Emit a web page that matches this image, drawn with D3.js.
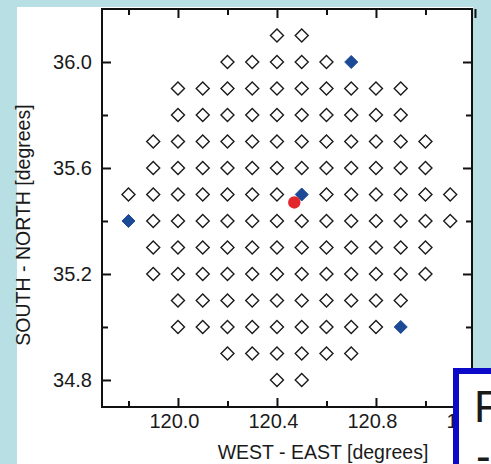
<!DOCTYPE html>
<html>
<head>
<meta charset="utf-8">
<script src="https://cdn.jsdelivr.net/npm/d3@7/dist/d3.min.js"></script>
<style>
  html, body { margin: 0; padding: 0; background: #b8dfe3; }
  svg { display: block; }
  text { font-family: "Liberation Sans", Arial, Helvetica, sans-serif; fill: #1a1a1a; }
</style>
</head>
<body>
<svg id="chart" width="491" height="464"></svg>
<script>
// Station grid: each row is a latitude with the longitudes of its stations
const rowLatitudes = [36.1, 36.0, 35.9, 35.8, 35.7, 35.6, 35.5, 35.4, 35.3, 35.2, 35.1, 35.0, 34.9, 34.8];
const rowLongitudes = [
  [120.4, 120.5],
  [120.2, 120.3, 120.4, 120.5, 120.6],
  [120.0, 120.1, 120.2, 120.3, 120.4, 120.5, 120.6, 120.7, 120.8, 120.9],
  [120.0, 120.1, 120.2, 120.3, 120.4, 120.5, 120.6, 120.7, 120.8, 120.9],
  [119.9, 120.0, 120.1, 120.2, 120.3, 120.4, 120.5, 120.6, 120.7, 120.8, 120.9, 121.0],
  [119.9, 120.0, 120.1, 120.2, 120.3, 120.4, 120.5, 120.6, 120.7, 120.8, 120.9, 121.0],
  [119.8, 119.9, 120.0, 120.1, 120.2, 120.3, 120.4, 120.6, 120.7, 120.8, 120.9, 121.0, 121.1],
  [119.9, 120.0, 120.1, 120.2, 120.3, 120.4, 120.5, 120.6, 120.7, 120.8, 120.9, 121.0, 121.1],
  [119.9, 120.0, 120.1, 120.2, 120.3, 120.4, 120.5, 120.6, 120.7, 120.8, 120.9, 121.0],
  [119.9, 120.0, 120.1, 120.2, 120.3, 120.4, 120.5, 120.6, 120.7, 120.8, 120.9, 121.0],
  [120.0, 120.1, 120.2, 120.3, 120.4, 120.5, 120.6, 120.7, 120.8, 120.9],
  [120.0, 120.1, 120.2, 120.3, 120.4, 120.5, 120.6, 120.7, 120.8],
  [120.2, 120.3, 120.4, 120.5, 120.6, 120.7],
  [120.4, 120.5]
];
// Highlighted stations (filled) as [lon, lat]
const selectedStations = [[120.7, 36.0], [120.5, 35.5], [119.8, 35.4], [120.9, 35.0]];
// Epicentre as [lon, lat]
const epicentre = [120.47, 35.47];

const xMajorTicks = [120.0, 120.4, 120.8, 121.2];
const xMinorTicks = [119.8, 120.2, 120.6, 121.0];
const yMajorTicks = [34.8, 35.2, 35.6, 36.0];
const yMinorTicks = [35.0, 35.4, 35.8];

const svg = d3.select("#chart");

// White panel
svg.append("rect").attr("x", 17).attr("y", 7).attr("width", 456).attr("height", 457).attr("fill", "#ffffff");

const plotLeft = 102, plotRight = 472, plotTop = 9, plotBottom = 407;
const x = d3.scaleLinear().domain([119.693, 121.188]).range([plotLeft, plotRight]);
const y = d3.scaleLinear().domain([34.698, 36.2]).range([plotBottom, plotTop]);

const fmt = d3.format(".1f");
const tickStyle = g => {
  g.select(".domain").remove();
  g.selectAll(".tick line").attr("stroke", "#111").attr("stroke-width", 2);
  g.selectAll(".tick text").style("font-size", "20px").attr("fill", "#1a1a1a");
};

// Bottom axis
svg.append("g").attr("transform", `translate(0,${plotBottom})`)
  .call(d3.axisBottom(x).tickValues(xMajorTicks).tickFormat(fmt).tickSize(-9).tickSizeOuter(0).tickPadding(7))
  .call(tickStyle)
  .call(g => g.selectAll(".tick text").attr("dx", -4));
svg.append("g").attr("transform", `translate(0,${plotBottom})`)
  .call(d3.axisBottom(x).tickValues(xMinorTicks).tickFormat("").tickSize(-6).tickSizeOuter(0))
  .call(tickStyle);
// Top axis
svg.append("g").attr("transform", `translate(0,${plotTop})`)
  .call(d3.axisTop(x).tickValues(xMajorTicks).tickFormat("").tickSize(-9).tickSizeOuter(0))
  .call(tickStyle);
svg.append("g").attr("transform", `translate(0,${plotTop})`)
  .call(d3.axisTop(x).tickValues(xMinorTicks).tickFormat("").tickSize(-6).tickSizeOuter(0))
  .call(tickStyle);
// Left axis
svg.append("g").attr("transform", `translate(${plotLeft},0)`)
  .call(d3.axisLeft(y).tickValues(yMajorTicks).tickFormat(fmt).tickSize(-9).tickSizeOuter(0).tickPadding(10))
  .call(tickStyle);
svg.append("g").attr("transform", `translate(${plotLeft},0)`)
  .call(d3.axisLeft(y).tickValues(yMinorTicks).tickFormat("").tickSize(-6).tickSizeOuter(0))
  .call(tickStyle);
// Right axis
svg.append("g").attr("transform", `translate(${plotRight},0)`)
  .call(d3.axisRight(y).tickValues(yMajorTicks).tickFormat("").tickSize(-9).tickSizeOuter(0))
  .call(tickStyle);
svg.append("g").attr("transform", `translate(${plotRight},0)`)
  .call(d3.axisRight(y).tickValues(yMinorTicks).tickFormat("").tickSize(-6).tickSizeOuter(0))
  .call(tickStyle);

// Frame
svg.append("rect").attr("x", plotLeft).attr("y", plotTop)
  .attr("width", plotRight - plotLeft).attr("height", plotBottom - plotTop)
  .attr("fill", "none").attr("stroke", "#111").attr("stroke-width", 2);

// Stations
const diamond = "M0,-6.5L6.5,0L0,6.5L-6.5,0Z";
const stations = rowLatitudes.flatMap((lat, i) => rowLongitudes[i].map(lon => [lon, lat]));
svg.append("g").selectAll("path").data(stations).join("path")
  .attr("d", diamond)
  .attr("transform", d => `translate(${x(d[0])},${y(d[1])})`)
  .attr("fill", "none").attr("stroke", "#1a1a1a").attr("stroke-width", 1.4);
svg.append("g").selectAll("path").data(selectedStations).join("path")
  .attr("d", diamond)
  .attr("transform", d => `translate(${x(d[0])},${y(d[1])})`)
  .attr("fill", "#1c4a96").attr("stroke", "#1c4a96").attr("stroke-width", 1);
svg.append("circle").attr("cx", x(epicentre[0])).attr("cy", y(epicentre[1])).attr("r", 6.2)
  .attr("fill", "#e2262b");

// Axis titles
svg.append("text").attr("x", 323).attr("y", 459).attr("text-anchor", "middle")
  .style("font-size", "19.5px").text("WEST - EAST [degrees]");
svg.append("text").attr("transform", "translate(30,225) rotate(-90)").attr("text-anchor", "middle")
  .style("font-size", "19.5px").text("SOUTH - NORTH [degrees]");

// Overlapping caption box
svg.append("rect").attr("x", 456).attr("y", 371).attr("width", 80).attr("height", 120)
  .attr("fill", "#ffffff").attr("stroke", "#0a0ac8").attr("stroke-width", 6);
svg.append("text").attr("x", 474).attr("y", 422).style("font-size", "44px").attr("fill", "#000").text("F");
svg.append("text").attr("x", 476).attr("y", 471).style("font-size", "44px").attr("fill", "#000").text("-");
</script>
</body>
</html>
